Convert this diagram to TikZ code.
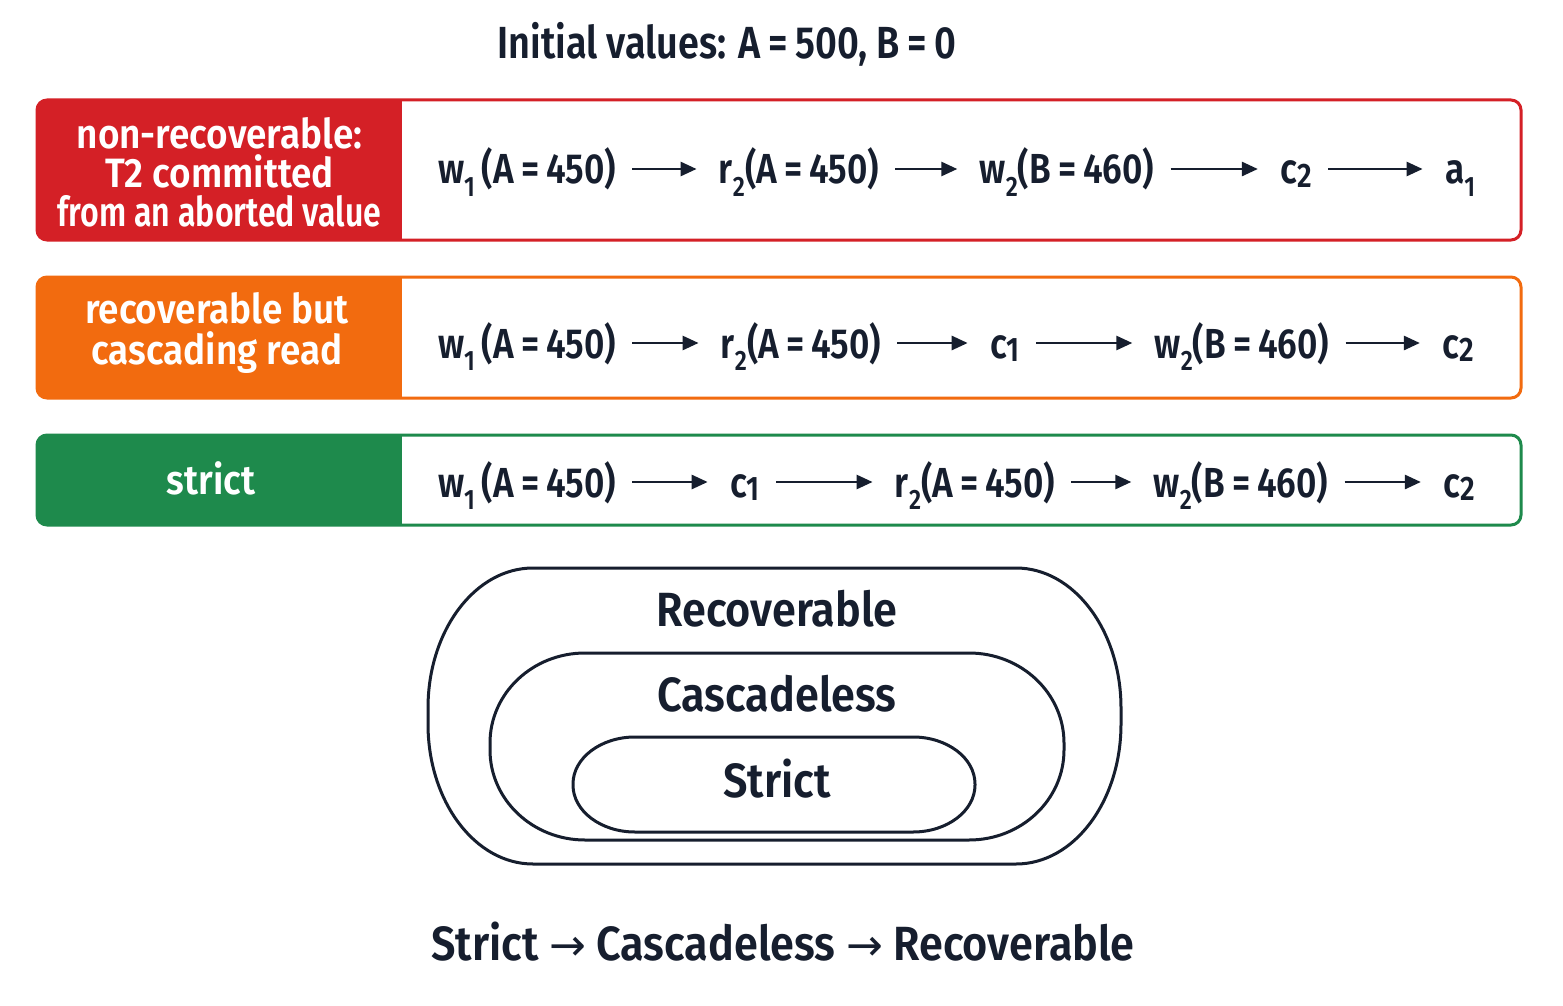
\documentclass[tikz,border=0pt]{standalone}
\usepackage{fontspec}
\setmainfont[FakeStretch=0.9,BoldFont={Fira Sans SemiBold},BoldFeatures={FakeStretch=0.9}]{Fira Sans}
\newfontfamily\opfont[FakeStretch=0.84,BoldFont={Fira Sans SemiBold},BoldFeatures={FakeStretch=0.84}]{Fira Sans}
\newfontfamily\arrowfont{DejaVu Sans}
\usetikzlibrary{arrows.meta}
\definecolor{ink}{RGB}{22,30,46}
\definecolor{cred}{RGB}{212,32,38}
\definecolor{corange}{RGB}{242,107,15}
\definecolor{cgreen}{RGB}{30,138,76}
\newcommand{\sbs}[1]{\raisebox{-0.3em}{\fontsize{14}{14}\selectfont #1}}
\newcommand{\cdg}[1]{\raisebox{-0.08em}{\fontsize{17}{17}\selectfont #1}}
\newcommand{\seqarrow}[2]{\draw[arr] ([yshift=7.5pt]#1.base east) -- ([yshift=7.5pt]#2.base west);}
\begin{document}
\begin{tikzpicture}[x=0.5pt,y=-0.5pt,
  op/.style={anchor=base, text=ink, font=\opfont\fontsize{21}{24}\selectfont\bfseries, inner sep=0pt},
  arr/.style={draw=ink, line width=1.35pt, -{Triangle[length=8pt,width=7pt]}, shorten <=8pt, shorten >=11pt},
  lab/.style={text=white, font=\fontsize{20.5}{19.5}\selectfont\bfseries, align=center, inner sep=0pt},
  setline/.style={draw=ink, line width=1.5pt},
  setlab/.style={anchor=base, text=ink, font=\fontsize{24}{28}\selectfont\bfseries, inner sep=0pt},
  frame/.style={line width=1.5pt, rounded corners=5pt}]
\useasboundingbox[fill=white] (0,0) rectangle (1563,1006);

% title
\node[op, font=\opfont\fontsize{22.5}{26}\selectfont\bfseries] (title) at (727,59) {Initial values: A\,=\,500, B\,=\,0};

% row 1
\begin{scope}
\clip[rounded corners=5pt] (37,100) rectangle (1521,240);
\fill[cred] (37,100) rectangle (402,240);
\end{scope}
\draw[frame, draw=cred] (37,100) rectangle (1521,240);
\node[lab] (l1) at (219.5,172) {non-recoverable:\\T2 committed\\\scalebox{0.87}[1]{from an aborted value}};
\node[op] (a1) at (527,184) {w\sbs{1}\,(A\,=\,450)};
\node[op] (a2) at (799,184) {r\sbs{2}(A\,=\,450)};
\node[op] (a3) at (1067,184) {w\sbs{2}(B\,=\,460)};
\node[op] (a4) at (1296,184) {c\cdg{2}};
\node[op] (a5) at (1460,184) {a\sbs{1}};
\seqarrow{a1}{a2}\seqarrow{a2}{a3}\seqarrow{a3}{a4}\seqarrow{a4}{a5}

% row 2
\begin{scope}
\clip[rounded corners=5pt] (37,277) rectangle (1521,398);
\fill[corange] (37,277) rectangle (402,398);
\end{scope}
\draw[frame, draw=corange] (37,277) rectangle (1521,398);
\node[lab, font=\fontsize{20.5}{20.5}\selectfont\bfseries] (l2) at (217,333) {recoverable but\\cascading read};
\node[op] (b1) at (527,358) {w\sbs{1}\,(A\,=\,450)};
\node[op] (b2) at (801,358) {r\sbs{2}(A\,=\,450)};
\node[op] (b3) at (1005,358) {c\cdg{1}};
\node[op] (b4) at (1242,358) {w\sbs{2}(B\,=\,460)};
\node[op] (b5) at (1458,358) {c\cdg{2}};
\seqarrow{b1}{b2}\seqarrow{b2}{b3}\seqarrow{b3}{b4}\seqarrow{b4}{b5}

% row 3
\begin{scope}
\clip[rounded corners=5pt] (37,435) rectangle (1521,525);
\fill[cgreen] (37,435) rectangle (402,525);
\end{scope}
\draw[frame, draw=cgreen] (37,435) rectangle (1521,525);
\node[lab] (l3) at (211,478) {strict};
\node[op] (c1) at (527,497) {w\sbs{1}\,(A\,=\,450)};
\node[op] (c2) at (745,497) {c\cdg{1}};
\node[op] (c3) at (975,497) {r\sbs{2}(A\,=\,450)};
\node[op] (c4) at (1241,497) {w\sbs{2}(B\,=\,460)};
\node[op] (c5) at (1459,497) {c\cdg{2}};
\seqarrow{c1}{c2}\seqarrow{c2}{c3}\seqarrow{c3}{c4}\seqarrow{c4}{c5}

% nested sets
\draw[setline] (533,568) -- (1016,568) arc[start angle=-90,end angle=0,x radius=105,y radius=140]
  -- (1121,724) arc[start angle=0,end angle=90,x radius=105,y radius=140]
  -- (533,864) arc[start angle=90,end angle=180,x radius=105,y radius=140]
  -- (428,708) arc[start angle=180,end angle=270,x radius=105,y radius=140] -- cycle;
\draw[setline] (585,653) -- (969,653) arc[start angle=-90,end angle=0,x radius=95,y radius=90]
  -- (1064,750) arc[start angle=0,end angle=90,x radius=95,y radius=90]
  -- (585,840) arc[start angle=90,end angle=180,x radius=95,y radius=90]
  -- (490,743) arc[start angle=180,end angle=270,x radius=95,y radius=90] -- cycle;
\draw[setline] (635,737) -- (913,737) arc[start angle=-90,end angle=0,x radius=62,y radius=47]
  -- (975,785) arc[start angle=0,end angle=90,x radius=62,y radius=47]
  -- (635,832) arc[start angle=90,end angle=180,x radius=62,y radius=47]
  -- (573,784) arc[start angle=180,end angle=270,x radius=62,y radius=47] -- cycle;
\node[setlab] (rec) at (777,626) {Recoverable};
\node[setlab] (cas) at (777,711) {Cascadeless};
\node[setlab] (str) at (777,797) {Strict};

\node[setlab] (chain) at (783,960) {Strict {\arrowfont\fontsize{22}{24}\selectfont\mdseries →} Cascadeless {\arrowfont\fontsize{22}{24}\selectfont\mdseries →} Recoverable};
\end{tikzpicture}
\end{document}
